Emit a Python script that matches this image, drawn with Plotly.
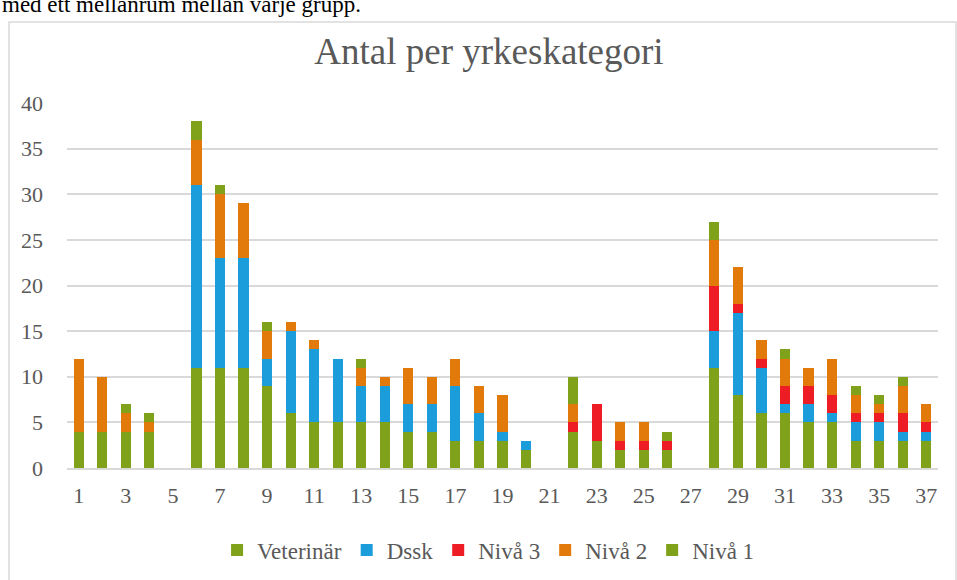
import plotly.graph_objects as go

categories = list(range(1, 38))

veterinar = [4, 4, 4, 4, 0, 11, 11, 11, 9, 6, 5, 5, 5, 5, 4, 4, 3, 3, 3, 2, 0,
             4, 3, 2, 2, 2, 0, 11, 8, 6, 6, 5, 5, 3, 3, 3, 3]
dssk = [0, 0, 0, 0, 0, 20, 12, 12, 3, 9, 8, 7, 4, 4, 3, 3, 6, 3, 1, 1, 0,
        0, 0, 0, 0, 0, 0, 4, 9, 5, 1, 2, 1, 2, 2, 1, 1]
niva3 = [0, 0, 0, 0, 0, 0, 0, 0, 0, 0, 0, 0, 0, 0, 0, 0, 0, 0, 0, 0, 0,
         1, 4, 1, 1, 1, 0, 5, 1, 1, 2, 2, 2, 1, 1, 2, 1]
niva2 = [8, 6, 2, 1, 0, 5, 7, 6, 3, 1, 1, 0, 2, 1, 4, 3, 3, 3, 4, 0, 0,
         2, 0, 2, 2, 0, 0, 5, 4, 2, 3, 2, 4, 2, 1, 3, 2]
niva1 = [0, 0, 1, 1, 0, 2, 1, 0, 1, 0, 0, 0, 1, 0, 0, 0, 0, 0, 0, 0, 0,
         3, 0, 0, 0, 1, 0, 2, 0, 0, 1, 0, 0, 1, 1, 1, 0]

series = [
    ("Veterinär", veterinar, "#7FA21A"),
    ("Dssk", dssk, "#1B9DDB"),
    ("Nivå 3", niva3, "#EE1C25"),
    ("Nivå 2", niva2, "#E17A0A"),
    ("Nivå 1", niva1, "#7FA21A"),
]

FONT = "Liberation Serif, Times New Roman, serif"
GREY = "#595959"

fig = go.Figure()
for name, vals, color in series:
    fig.add_trace(go.Bar(x=categories, y=vals, name=name,
                         marker=dict(color=color, line=dict(width=0))))

fig.update_layout(
    barmode="stack",
    bargap=0.57,
    width=957, height=580,
    paper_bgcolor="white", plot_bgcolor="white",
    margin=dict(l=67, r=19, t=103, b=112, autoexpand=False),
    font=dict(family=FONT, size=22, color=GREY),
    title=dict(text="Antal per yrkeskategori", xref="paper", x=0.4845, xanchor="center",
               y=0.912, yanchor="middle",
               font=dict(family=FONT, size=37, color=GREY)),
    legend=dict(orientation="h", x=0.484, xanchor="center", y=-0.225, yanchor="middle",
                font=dict(family=FONT, size=23, color=GREY),
                traceorder="normal", itemwidth=30),
    showlegend=True,
)
fig.update_yaxes(range=[0, 40], dtick=5, showgrid=True, gridcolor="#D9D9D9",
                 gridwidth=1.5, zeroline=False, showline=False, ticks="",
                 ticklabelstandoff=23)
fig.update_xaxes(range=[0.5, 37.5], tickvals=list(range(1, 38, 2)),
                 showline=True, linecolor="#D9D9D9", linewidth=1.5,
                 showgrid=False, ticks="", ticklabelstandoff=7)

# chart frame
fig.add_shape(type="rect", xref="paper", yref="paper",
              x0=-0.0666, x1=1.0207, y0=-0.4, y1=1.222,
              line=dict(color="#D9D9D9", width=1.5), layer="below")

# cut-off document text above the chart
fig.add_annotation(text="med ett mellanrum mellan varje grupp.", xref="paper", yref="paper",
                   x=-0.077, xanchor="left", y=1.27, yanchor="middle",
                   showarrow=False,
                   font=dict(family="Liberation Serif", size=23, color="black"))

# page has a default 8px body margin; remove it so the figure sits at the corner
fig.write_html("out.html", config={"displayModeBar": False},
               post_script="document.body.style.margin='0';")
